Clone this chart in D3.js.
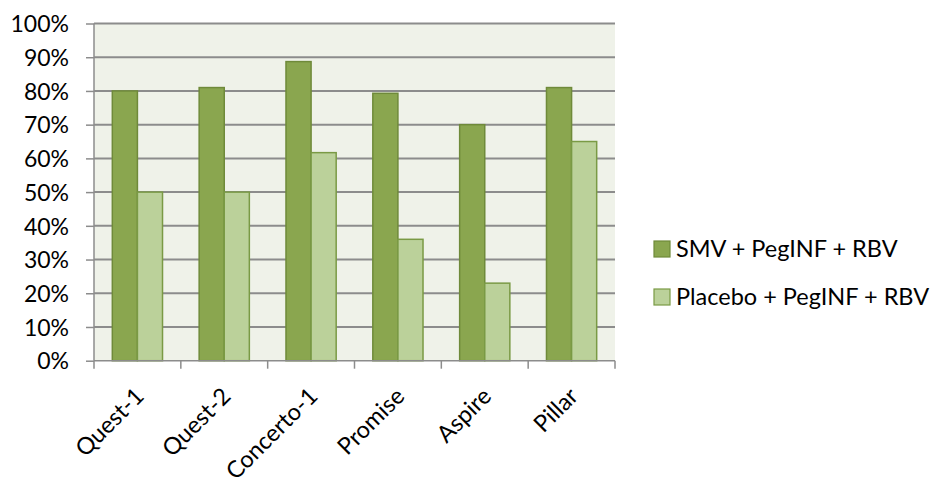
<!DOCTYPE html>
<html>
<head>
<meta charset="utf-8">
<script src="https://cdn.jsdelivr.net/npm/d3@7"></script>
<style>
    body { margin: 0; background: #fff; }
    text { font-family: Lato, "Open Sans", sans-serif; fill: #000; }
    .grid line { stroke: #8c8c8c; stroke-width: 2; }
    .axis path, .axis line { stroke: #8c8c8c; stroke-width: 1.5; }
</style>
</head>
<body>
<script>
var studies = ['Quest-1', 'Quest-2', 'Concerto-1', 'Promise', 'Aspire', 'Pillar'];
var seriesNames = ['SMV + PegINF + RBV', 'Placebo + PegINF + RBV'];
var smv = [80, 81, 88.7, 79.3, 70, 81];
var placebo = [50, 50, 61.7, 36, 23, 65];
var yTicks = [0, 10, 20, 30, 40, 50, 60, 70, 80, 90, 100];

var width = 932,
    height = 477;

var plot = {left: 94, right: 615, top: 23.5, bottom: 360.7};
var fills = ['#8aa64f', '#bbd19a'],
    strokes = ['#6f8a3a', '#7a9a45'];

var svg = d3.select('body')
    .append('svg')
    .attr('width', width)
    .attr('height', height);

var x0 = d3.scaleBand()
    .domain(studies)
    .range([plot.left, plot.right])
    .padding(0);

var x1 = d3.scaleBand()
    .domain([0, 1])
    .range([0, x0.bandwidth()])
    .paddingInner(0)
    .paddingOuter(0.73);

var y = d3.scaleLinear()
    .domain([0, 100])
    .range([plot.bottom, plot.top]);

// plot background
svg.append('rect')
    .attr('x', plot.left)
    .attr('y', plot.top)
    .attr('width', plot.right - plot.left)
    .attr('height', plot.bottom - plot.top)
    .attr('fill', '#eff2e9');

// gridlines
svg.append('g')
    .attr('class', 'grid')
    .selectAll('line')
    .data(yTicks.filter(d => d > 0)).enter()
    .append('line')
    .attr('x1', plot.left)
    .attr('x2', plot.right)
    .attr('y1', d => y(d))
    .attr('y2', d => y(d));

// bars
var rows = studies.map((s, i) => ({study: s, values: [smv[i], placebo[i]]}));

svg.append('g')
    .selectAll('g')
    .data(rows).enter()
    .append('g')
    .attr('transform', d => 'translate(' + x0(d.study) + ',0)')
    .selectAll('rect')
    .data(d => d.values.map((v, k) => ({k: k, v: v}))).enter()
    .append('rect')
    .attr('x', d => x1(d.k))
    .attr('width', x1.bandwidth())
    .attr('y', d => y(d.v))
    .attr('height', d => y(0) - y(d.v))
    .attr('fill', d => fills[d.k])
    .attr('stroke', d => strokes[d.k])
    .attr('stroke-width', 1.5);

// y axis
var yAxis = svg.append('g')
    .attr('class', 'axis')
    .attr('transform', 'translate(' + plot.left + ',0)')
    .call(d3.axisLeft(y)
        .tickValues(yTicks)
        .tickSize(8)
        .tickPadding(17)
        .tickFormat(d => d + '%'));
yAxis.selectAll('text')
    .style('font-size', '23px')
    .attr('dy', '0.36em');
yAxis.select('.domain').attr('d', 'M0,' + plot.top + 'V' + plot.bottom);

// x axis
var xAxis = svg.append('g')
    .attr('class', 'axis')
    .attr('transform', 'translate(0,' + plot.bottom + ')')
    .call(d3.axisBottom(x0).tickSize(0).tickFormat(''));
xAxis.select('.domain').attr('d', 'M' + plot.left + ',0H' + plot.right);

// category boundary ticks
xAxis.selectAll('.bound')
    .data(studies.concat([null])).enter()
    .append('line')
    .attr('class', 'bound')
    .attr('x1', (d, i) => plot.left + i * x0.step())
    .attr('x2', (d, i) => plot.left + i * x0.step())
    .attr('y1', 0)
    .attr('y2', 8)
    .attr('stroke', '#8c8c8c')
    .attr('stroke-width', 1.5);

// rotated category labels
svg.append('g')
    .selectAll('text')
    .data(studies).enter()
    .append('text')
    .attr('text-anchor', 'end')
    .style('font-size', '23.5px')
    .attr('transform', d => 'translate(' + (x0(d) + x0.bandwidth() / 2 + 8) + ',' + (plot.bottom + 37) + ') rotate(-45)')
    .text(d => d);

// legend
var legend = svg.append('g')
    .selectAll('g')
    .data(seriesNames).enter()
    .append('g')
    .attr('transform', (d, i) => 'translate(654,' + (241 + i * 48) + ')');

legend.append('rect')
    .attr('width', 16)
    .attr('height', 16)
    .attr('fill', (d, i) => fills[i])
    .attr('stroke', (d, i) => strokes[i])
    .attr('stroke-width', 1.2);

legend.append('text')
    .attr('x', 22)
    .attr('y', 8)
    .attr('dy', '0.36em')
    .style('font-size', '23.5px')
    .text(d => d);
</script>
</body>
</html>
